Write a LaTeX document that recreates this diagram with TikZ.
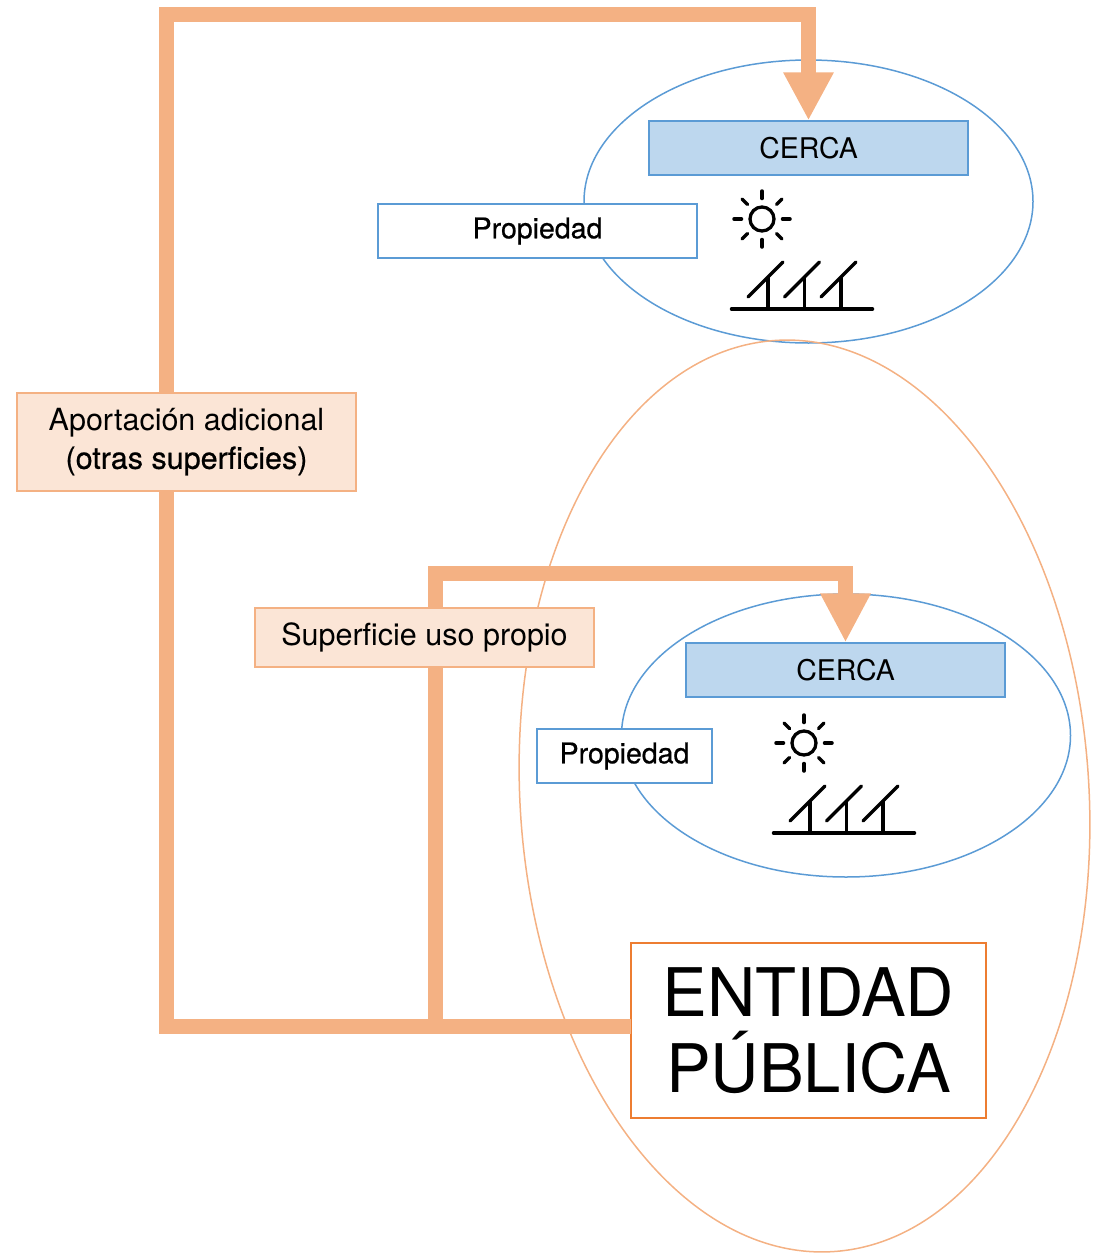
\documentclass[tikz,border=0pt]{standalone}
\usepackage{fontspec}
\setmainfont{TeX Gyre Heros}
\newfontfamily\fakebold[FakeBold=0.6]{TeX Gyre Heros}
\usetikzlibrary{arrows.meta,shapes.geometric}
\definecolor{peach}{HTML}{F4B183}
\definecolor{peachfill}{HTML}{FBE5D6}
\definecolor{bluel}{HTML}{5B9BD5}
\definecolor{bluef}{HTML}{BDD7EE}
\definecolor{orangel}{HTML}{ED7D31}
\tikzset{
  px/.style={x=1pt,y=-1pt},
  bigell/.style={ellipse,draw=peach,line width=1.5pt,inner sep=0pt},
  blueell/.style={ellipse,draw=bluel,line width=1.5pt,inner sep=0pt,minimum width=449pt,minimum height=283pt},
  bluebox/.style={rectangle,draw=bluel,fill=bluef,line width=1.2pt,inner sep=0pt,minimum width=319pt,minimum height=54pt,font=\fontsize{28.5}{32}\selectfont},
  propbox/.style={rectangle,draw=bluel,fill=white,line width=1.2pt,inner sep=0pt,minimum height=54pt,font=\fakebold\fontsize{28.5}{32}\selectfont},
  peachbox/.style={rectangle,draw=peach,fill=peachfill,line width=1.2pt,inner sep=0pt,align=center,minimum width=339pt,font=\fontsize{30.5}{38}\selectfont},
  entbox/.style={rectangle,draw=orangel,fill=white,line width=1.5pt,inner sep=0pt,align=center,minimum width=355pt,minimum height=175pt,font=\fontsize{67}{76}\selectfont},
  thick1/.style={draw=peach,line width=15pt,line join=miter},
  sunray/.style={line width=3.5pt,line cap=round},
  panel/.style={line width=3.5pt,line cap=round},
}
\newcommand{\sunpanels}[2]{%
  \begin{scope}[shift={(#1pt,-#2pt)},black]
    \draw[line width=3.3pt] (762pt,-219pt) circle (12pt);
    \foreach \a in {0,45,...,315}
      \draw[sunray] (762pt,-219pt) ++(\a:20.5pt) -- ++(\a:7.5pt);
    \draw[panel] (731.5pt,-309pt) -- (872.5pt,-309pt);
    \foreach \d in {0,36.5,73} {
      \draw[panel] (748pt+\d pt,-297pt) -- (783pt+\d pt,-262pt);
      \draw[line width=3.5pt] (768pt+\d pt,-309pt) -- (768pt+\d pt,-277pt);
    }
  \end{scope}}
\begin{document}
\begin{tikzpicture}[px]
\useasboundingbox (0,0) rectangle (1101,1253);
% ellipses
\node[blueell] (topell) at (808.5,201.5) {};
\node[bigell,minimum width=569pt,minimum height=913pt,rotate=3.6] (bigell) at (804.5,796) {};
\node[blueell] (lowell) at (846,735.5) {};
% boxes
\node[bluebox] (cerca1) at (808.5,148) {CERCA};
\node[bluebox] (cerca2) at (845.5,670) {CERCA};
\node[propbox,minimum width=319pt] (prop1) at (537.5,231) {Propiedad};
\node[propbox,minimum width=175pt] (prop2) at (624.5,756) {Propiedad};
\node[entbox] (ent) at (808.5,1030.5) {ENTIDAD\\PÚBLICA};
\coordinate (entport) at (631,1026);
\coordinate (juncb) at (435,1026);
\coordinate (outera) at (166,1026);
\coordinate (outerb) at (166,14);
\coordinate (outerc) at (808.5,14);
\coordinate (innera) at (435,573);
\coordinate (innerb) at (845.5,573);
% connectors
\draw[thick1,-{Triangle[length=48pt,width=47pt]}] (entport) -- (outera) -- (outerb) -- (outerc) -- (cerca1.north);
\draw[thick1,-{Triangle[length=49pt,width=47pt]}] (juncb) -- (innera) -- (innerb) -- (cerca2.north);
% labels
\node[peachbox,minimum height=98pt] (aport) at (186.5,442) {Aportación adicional\\{\fakebold (otras superficies)}};
\node[peachbox,minimum height=59pt] (sup) at (424.5,637.5) {Superficie uso propio};
\sunpanels{0}{0}
\sunpanels{42}{524}
\end{tikzpicture}
\end{document}
